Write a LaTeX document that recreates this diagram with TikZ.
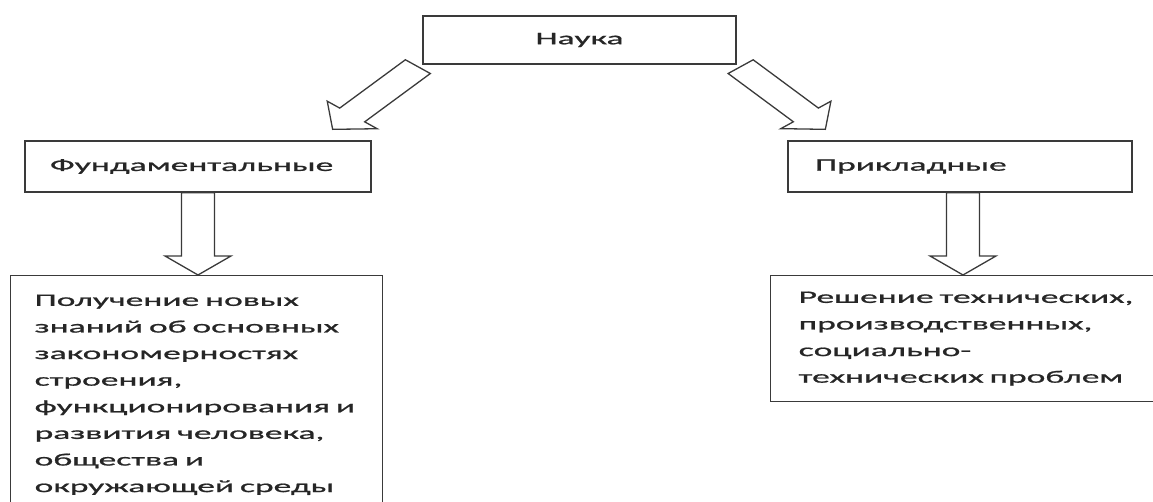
\documentclass[tikz,border=0pt]{standalone}
\usepackage{fontspec}
\setmainfont[FakeStretch=2.03, FakeBold=1]{Carlito}
\usetikzlibrary{calc}
\definecolor{naukaline}{HTML}{3A3A3A}
\definecolor{naukatext}{HTML}{262626}

\newcommand{\stretchx}{1.57}
\newcommand{\shafthw}{10.5}
\newcommand{\headhw}{21}
\newcommand{\headlen}{19}
% hollow block arrow from #1 to #2
\newcommand{\hollowarrow}[2]{%
  \draw[arrowline] let \p1=(#1), \p2=(#2),
      \n1={veclen((\x2-\x1)/\stretchx,\y2-\y1)},
      \p3=({(\x2-\x1)/\n1},{(\y2-\y1)/\n1}),
      \p4=({-\y3*\stretchx},{\x3/\stretchx}),
      \p5=($(\p2)-\headlen*(\p3)$) in
    ($(\p1)+\shafthw*(\p4)$) -- ($(\p5)+\shafthw*(\p4)$) -- ($(\p5)+\headhw*(\p4)$)
    -- (\p2) -- ($(\p5)-\headhw*(\p4)$) -- ($(\p5)-\shafthw*(\p4)$)
    -- ($(\p1)-\shafthw*(\p4)$) -- cycle;}

\tikzset{
  box/.style={draw=naukaline, line width=1.3pt, text=naukatext, font=\fontsize{17.5}{26.6}\selectfont},
  headbox/.style={box, align=left, minimum height=51pt, inner ysep=0pt},
  goalbox/.style={box, align=left, anchor=north west},
  arrowline/.style={draw=naukaline, line width=1.3pt, line join=miter}
}

\begin{document}
\begin{tikzpicture}[x=1pt, y=-1pt]
  \useasboundingbox (0,0) rectangle (1153,502);

  \node[box, minimum width=313pt, minimum height=48pt] (nauka) at (579.5,40) {Наука};

  \node[headbox, text width=296pt, inner xsep=25pt] (fund) at (198,166.5) {Фундаментальные};
  \node[headbox, text width=290pt, inner xsep=27pt] (prikl) at (960,166.5) {Прикладные};

  \node[goalbox, text width=324pt, inner xsep=24pt, inner ysep=19pt] (fundgoal) at (10,275) {
    Получение новых\\
    знаний об основных\\
    закономерностях\\
    строения,\\
    функционирования и\\
    развития человека,\\
    общества и\\
    окружающей среды};
  \node[goalbox, text width=360pt, inner xsep=28pt, inner ysep=16pt] (priklgoal) at (770,275) {
    Решение технических,\\
    производственных,\\
    социально-\\
    технических проблем};

  % arrows
  \coordinate (fundtail) at ($(nauka.south west)+(-4.5,2)$);
  \coordinate (fundtip) at ($(fund.north east)+(-39,-11)$);
  \coordinate (prikltail) at ($(nauka.south east)+(4,2)$);
  \coordinate (prikltip) at ($(prikl.north west)+(38,-11)$);
  \hollowarrow{fundtail}{fundtip}
  \hollowarrow{prikltail}{prikltip}
  \hollowarrow{fund.south}{fund.south |- fundgoal.north}
  \hollowarrow{$(prikl.south)+(3,0)$}{$(prikl.south |- priklgoal.north)+(3,0)$}
\end{tikzpicture}
\end{document}
